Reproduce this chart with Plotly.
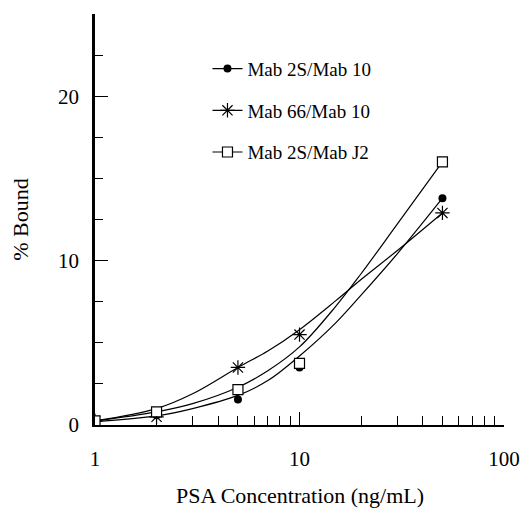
import plotly.graph_objects as go

# measured points
conc = [1, 2, 5, 10, 50]
mab2s_10 = [0.2, 0.6, 1.55, 3.5, 13.8]
mab66_10 = [0.25, 0.5, 3.5, 5.5, 12.9]
mab2s_j2 = [0.25, 0.8, 2.15, 3.75, 16.0]

# fitted curves as drawn in the figure
fit_x = [1, 2, 3, 5, 7, 10, 15, 20, 30, 50]
fit_2s_10 = [0.2, 0.55, 1.0, 1.8, 2.7, 4.2, 6.2, 7.9, 10.4, 13.8]
fit_66_10 = [0.25, 1.0, 1.9, 3.5, 4.5, 5.8, 7.55, 8.85, 10.6, 12.9]
fit_2s_j2 = [0.25, 0.8, 1.3, 2.3, 3.3, 4.75, 7.2, 9.2, 12.2, 16.0]

names = ["Mab 2S/Mab 10", "Mab 66/Mab 10", "Mab 2S/Mab J2"]

FONT = "Liberation Serif, Times New Roman, serif"

markers = [
    dict(symbol="circle", size=8, color="black"),
    dict(symbol="asterisk-open", size=12, color="black", line=dict(width=1.2, color="black")),
    dict(symbol="square", size=10, color="white", line=dict(width=1.2, color="black")),
]

fig = go.Figure()

# fitted curves
for fit in [fit_2s_10, fit_66_10, fit_2s_j2]:
    fig.add_trace(go.Scatter(x=fit_x, y=fit, mode="lines",
                             line=dict(color="black", width=1.2, shape="spline"),
                             showlegend=False, hoverinfo="skip"))

# data points
for i, (name, pts) in enumerate(zip(names, [mab2s_10, mab66_10, mab2s_j2])):
    fig.add_trace(go.Scatter(x=conc, y=pts, mode="markers", name=name,
                             marker=markers[i], showlegend=False))
    # legend entry (line + symbol)
    fig.add_trace(go.Scatter(x=[None], y=[None], mode="lines+markers", name=name,
                             line=dict(color="black", width=1.2),
                             marker=markers[i], legendgroup=f"g{i}"))

fig.update_layout(
    width=524, height=509,
    margin=dict(l=95, r=20, t=14, b=84),
    paper_bgcolor="white", plot_bgcolor="white",
    font=dict(family=FONT, color="black", size=21),
    showlegend=True,
    legend=dict(x=0.275, y=0.913, xanchor="left", yanchor="top",
                font=dict(family=FONT, size=19), tracegroupgap=14,
                bgcolor="rgba(0,0,0,0)", itemwidth=30),
    xaxis=dict(type="log", range=[0, 2], tickvals=[1, 10, 100], ticktext=["1", "10", "100"],
               ticks="inside", ticklen=13, tickwidth=1, tickcolor="black",
               minor=dict(ticks="inside", ticklen=9, dtick="D1", tickcolor="black", tickwidth=1),
               showline=True, linecolor="black", linewidth=2, showgrid=False, zeroline=False,
               ticklabelstandoff=14, automargin=False),
    yaxis=dict(range=[0, 25], tickvals=[0, 10, 20],
               ticks="inside", ticklen=13, tickwidth=1, tickcolor="black",
               minor=dict(ticks="inside", ticklen=8, dtick=2.5, tickcolor="black", tickwidth=1),
               showline=True, linecolor="black", linewidth=2.5, showgrid=False, zeroline=False,
               ticklabelstandoff=9, automargin=True,
               title=dict(text="% Bound", font=dict(size=22), standoff=24)),
)

# x-axis title, placed low near the bottom edge as in the original
fig.add_annotation(text="PSA Concentration (ng/mL)", xref="paper", yref="paper",
                   x=0.5, y=0, xanchor="center", yanchor="middle", yshift=-70,
                   showarrow=False, font=dict(family=FONT, size=22))

# drop the default 8px page margin so the figure fills the window exactly
fig.write_html("out.html", config={"displayModeBar": False},
               post_script="document.body.style.margin='0';document.body.style.overflow='hidden';")
